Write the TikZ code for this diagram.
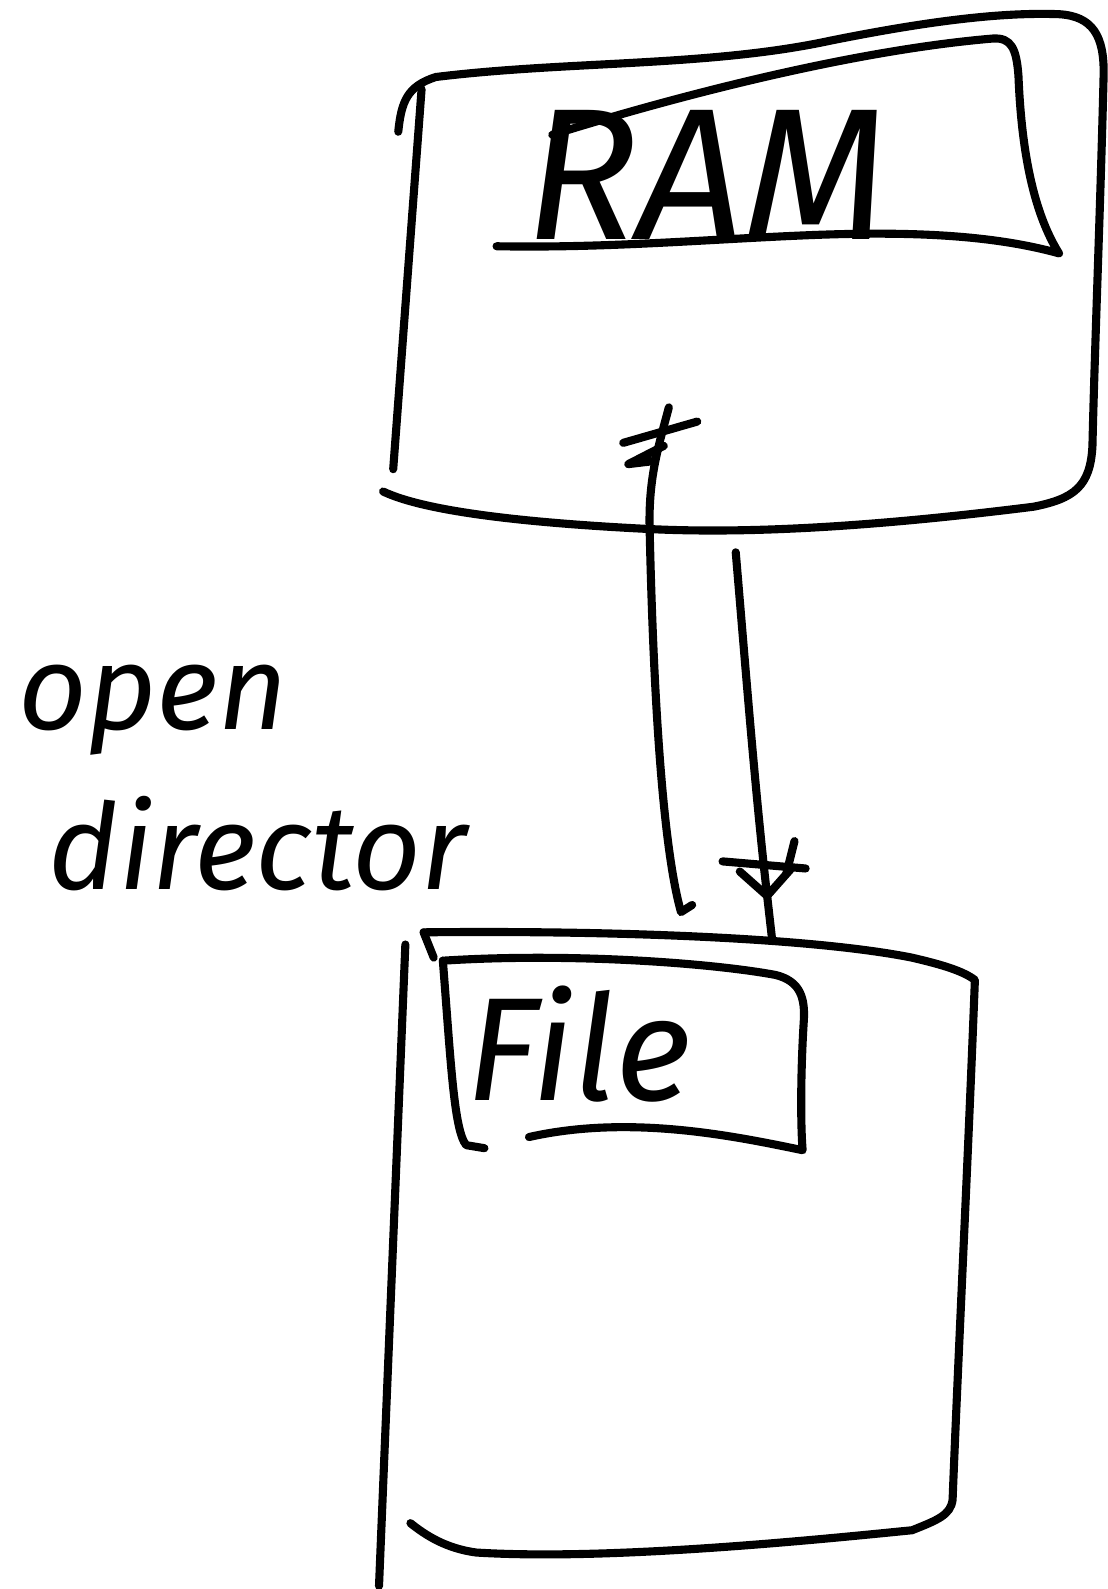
\documentclass[tikz,border=0pt]{standalone}
\usepackage{fontspec}
\newfontfamily\handfam{Fira Sans}
\newcommand{\hand}{\handfam\itshape}
\begin{document}
\begin{tikzpicture}[x=1pt,y=-1pt,
  sketch/.style={draw=black, line width=8pt, line cap=round, line join=round},
  handtext/.style={inner sep=0pt, anchor=base west}]
\useasboundingbox[fill=white] (0,0) rectangle (1093,1568);

% ---------- texts ----------
\node[handtext, font=\hand\fontsize{185}{185}\selectfont] (ram) at (518,236) {RAM};
\node[handtext, font=\hand\fontsize{145}{145}\selectfont] (file) at (460,1086) {File};
\node[handtext, font=\hand\fontsize{118}{118}\selectfont] (open) at (18,720) {open};
\node[handtext, font=\hand\fontsize{118}{118}\selectfont] (director) at (48,878) {director};

% ---------- RAM box ----------
\draw[sketch] (393,130) .. controls (396,100) and (402,85) .. (430,76)
  .. controls (560,60) and (700,66) .. (820,40)
  .. controls (920,20) and (990,12) .. (1045,14)
  .. controls (1078,16) and (1090,35) .. (1089,75)
  .. controls (1086,200) and (1080,350) .. (1078,440)
  .. controls (1076,480) and (1060,492) .. (1020,500)
  .. controls (900,515) and (760,528) .. (640,522)
  .. controls (520,516) and (420,505) .. (378,485);
\draw[sketch] (416,88) -- (388,463);
% RAM label frame
\draw[sketch] (545,133) .. controls (700,85) and (860,48) .. (980,38)
  .. controls (998,37) and (1003,48) .. (1005,75)
  .. controls (1008,150) and (1020,210) .. (1045,250)
  .. controls (980,232) and (900,228) .. (800,232)
  .. controls (700,236) and (600,245) .. (490,243);

% ---------- File box ----------
\draw[sketch] (418,920) .. controls (600,918) and (800,925) .. (900,945)
  .. controls (930,952) and (950,958) .. (962,967)
  .. controls (955,1150) and (945,1350) .. (940,1480)
  .. controls (938,1495) and (925,1500) .. (900,1510)
  .. controls (800,1520) and (600,1540) .. (470,1532)
  .. controls (440,1528) and (420,1515) .. (405,1503);
\draw[sketch] (418,920) -- (428,945);
\draw[sketch] (400,932) -- (374,1565);
% File label frame
\draw[sketch] (437,948) .. controls (445,1050) and (448,1115) .. (460,1130) -- (478,1133);
\draw[sketch] (437,948) .. controls (560,940) and (700,950) .. (765,962)
  .. controls (790,968) and (795,985) .. (793,1010)
  .. controls (790,1060) and (790,1110) .. (792,1135)
  .. controls (720,1120) and (620,1100) .. (522,1122);

% ---------- connectors ----------
\coordinate (tailtop) at (660,402);
\coordinate (tailend) at (672,900);
\coordinate (headstart) at (726,545);
\coordinate (headtip) at (757,884);
\coordinate (headend) at (762,928);
\draw[sketch] (tailtop) .. controls (650,440) and (640,470) .. (641,520)
  .. controls (645,700) and (655,840) .. (tailend) -- (683,893);
\draw[sketch] (615,437) -- (688,416);
\draw[sketch] (655,440) -- (620,458) -- (645,455);
\draw[sketch] (headstart) .. controls (735,650) and (745,780) .. (headtip) -- (headend);
\draw[sketch] (713,850) -- (795,857);
\draw[sketch] (730,860) -- (headtip) -- (780,858);
\draw[sketch] (784,830) -- (776,862);
\end{tikzpicture}
\end{document}
